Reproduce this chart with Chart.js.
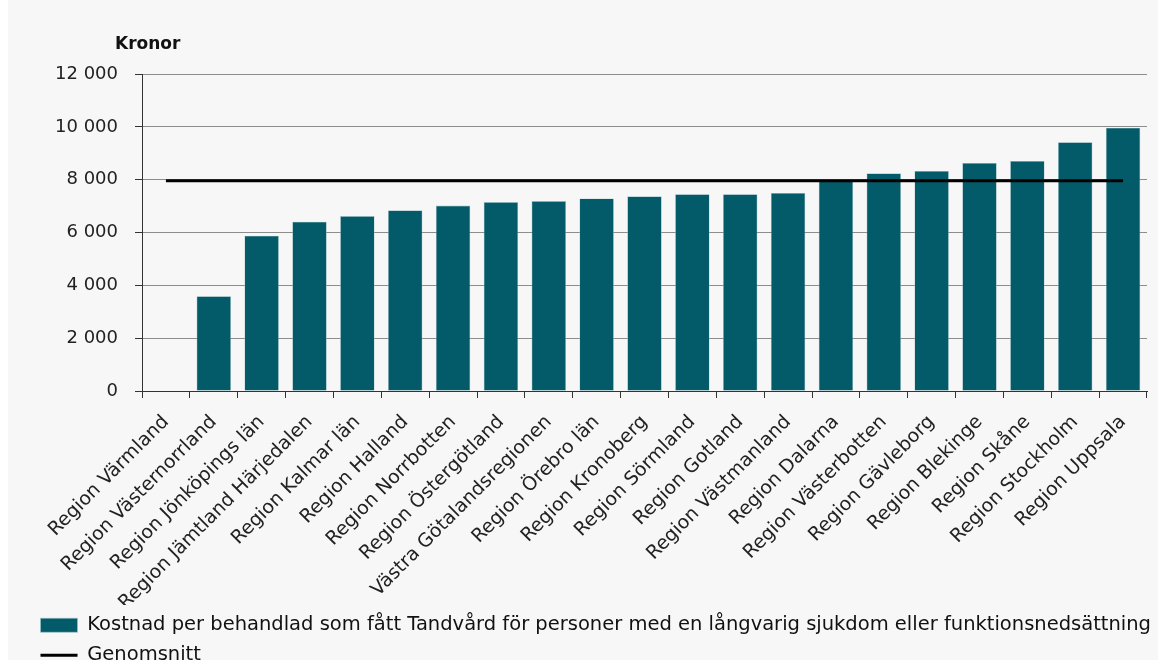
<!DOCTYPE html>
<html>
<head>
<meta charset="utf-8">
<script src="https://cdn.jsdelivr.net/npm/chart.js@4.4.1/dist/chart.umd.min.js"></script>
<style>
  html, body { margin: 0; padding: 0; background: #ffffff; }
  #wrap { width: 1170px; height: 666px; position: relative; }
</style>
</head>
<body>
<div id="wrap"><canvas id="chart" width="1170" height="666"></canvas></div>
<script>
// regioner, sorterade efter kostnad
const regions = [
  "Region Värmland", "Region Västernorrland", "Region Jönköpings län", "Region Jämtland Härjedalen",
  "Region Kalmar län", "Region Halland", "Region Norrbotten", "Region Östergötland",
  "Västra Götalandsregionen", "Region Örebro län", "Region Kronoberg", "Region Sörmland",
  "Region Gotland", "Region Västmanland", "Region Dalarna", "Region Västerbotten",
  "Region Gävleborg", "Region Blekinge", "Region Skåne", "Region Stockholm", "Region Uppsala"
];
// kronor per behandlad (Värmland saknar värde)
const costPerPatient = [
  null, 3590, 5880, 6410, 6620, 6840, 7020, 7150,
  7190, 7290, 7370, 7450, 7450, 7500, 7970, 8240,
  8330, 8630, 8710, 9420, 9970
];
const averageCost = 7960;
const averageLine = regions.map(() => averageCost);
const yTicks = [0, 2000, 4000, 6000, 8000, 10000, 12000];

const barLabel = "Kostnad per behandlad som fått Tandvård för personer med en långvarig sjukdom eller funktionsnedsättning";
const lineLabel = "Genomsnitt";

const font = "DejaVu Sans";
const fmt = v => String(v).replace(/\B(?=(\d{3})+(?!\d))/g, " ");

// bakgrund och rubriken "Kronor"
const decor = {
  id: "decor",
  beforeDraw(chart) {
    const ctx = chart.ctx;
    ctx.save();
    ctx.fillStyle = "#f7f7f7";
    ctx.fillRect(8, 0, 1150, 660);
    ctx.restore();
  },
  afterDraw(chart) {
    const ctx = chart.ctx;
    ctx.save();
    ctx.fillStyle = "#111";
    ctx.font = "bold 17px " + font;
    ctx.textBaseline = "middle";
    ctx.fillText("Kronor", 115, 45);
    ctx.restore();
  }
};

new Chart(document.getElementById("chart"), {
  data: {
    labels: regions,
    datasets: [
      {
        type: "bar",
        label: barLabel,
        data: costPerPatient,
        backgroundColor: "#035b69",
        borderColor: "#9fc2c8",
        borderWidth: 0.6,
        categoryPercentage: 1,
        barPercentage: 0.72,
        pointStyle: "rect",
        order: 2
      },
      {
        type: "line",
        label: lineLabel,
        data: averageLine,
        borderColor: "#000",
        backgroundColor: "#000",
        borderWidth: 3,
        pointRadius: 0,
        pointStyle: "line",
        order: 1
      }
    ]
  },
  options: {
    responsive: false,
    animation: false,
    layout: { padding: { top: 74, right: 8, left: 30, bottom: -9 } },
    plugins: {
      tooltip: { enabled: false },
      legend: {
        position: "bottom",
        align: "start",
        labels: {
          sort: (a, b) => a.datasetIndex - b.datasetIndex,
          usePointStyle: true,
          pointStyleWidth: 37,
          boxHeight: 14,
          color: "#111",
          padding: 10.5,
          font: { family: font, size: 19.5 }
        }
      }
    },
    scales: {
      x: {
        offset: true,
        afterFit(scale) { scale.height = 214; },
        grid: { drawOnChartArea: false, tickLength: 7, tickColor: "#333", offset: true },
        border: { color: "#333", width: 1 },
        ticks: {
          minRotation: 45, maxRotation: 45, autoSkip: false,
          color: "#222", padding: 13, labelOffset: 0,
          font: { family: font, size: 19 }
        }
      },
      y: {
        min: 0, max: 12000,
        afterFit(scale) { scale.width = 112; },
        afterBuildTicks(scale) { scale.ticks = yTicks.map(v => ({ value: v })); },
        grid: { color: "#8c8c8c", tickLength: 7, tickColor: "#333" },
        border: { color: "#333", width: 1 },
        ticks: {
          color: "#222", padding: 17,
          font: { family: font, size: 18 },
          callback: v => fmt(v)
        }
      },
      // tom axel till höger, håller diagramytan på plats
      spacer: {
        position: "right",
        min: 0, max: 1,
        afterFit(scale) { scale.width = 15; },
        grid: { display: false },
        border: { display: false },
        ticks: { display: false }
      }
    }
  },
  plugins: [decor]
});
</script>
</body>
</html>
